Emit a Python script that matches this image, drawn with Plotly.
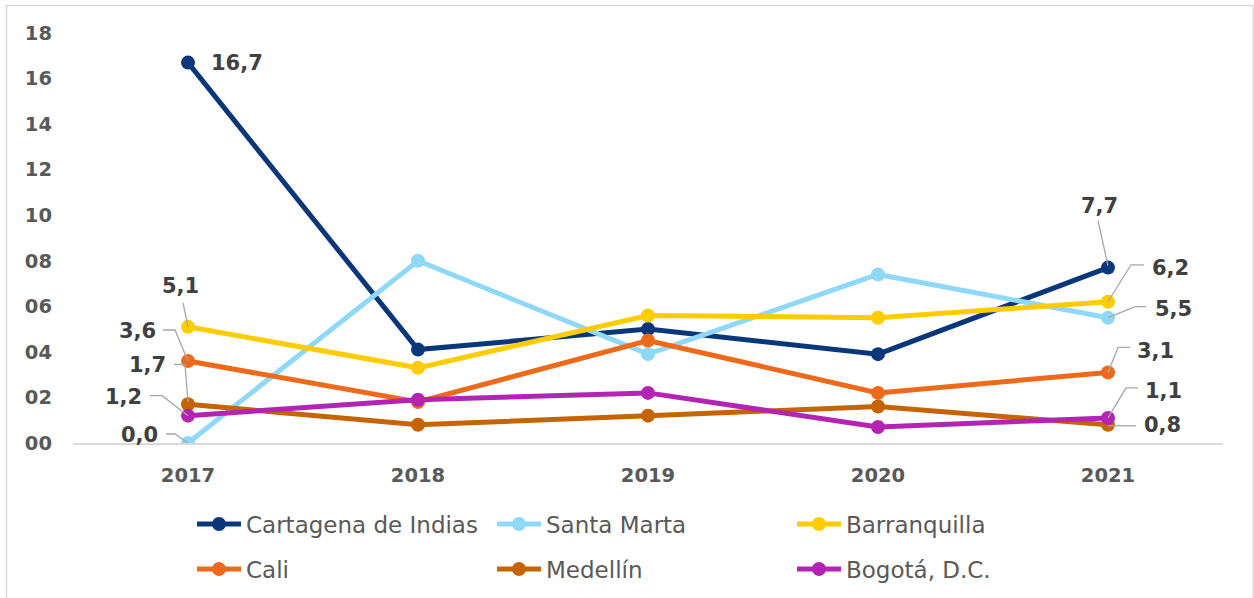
import plotly.graph_objects as go

# Source values per city, 2017-2021
years = ["2017", "2018", "2019", "2020", "2021"]
cartagena = [16.7, 4.1, 5.0, 3.9, 7.7]
santa_marta = [0.0, 8.0, 3.9, 7.4, 5.5]
barranquilla = [5.1, 3.3, 5.6, 5.5, 6.2]
cali = [3.6, 1.8, 4.5, 2.2, 3.1]
medellin = [1.7, 0.8, 1.2, 1.6, 0.8]
bogota = [1.2, 1.9, 2.2, 0.7, 1.1]

names = ["Cartagena de Indias", "Santa Marta", "Barranquilla", "Cali", "Medellín", "Bogotá, D.C."]
series = [cartagena, santa_marta, barranquilla, cali, medellin, bogota]
colors = ["#0A377A", "#8FD9F8", "#FFCC00", "#EE6A1A", "#C56400", "#B424B4"]

# Label placement (same order as series) for the first and last year:
# text offset in px and leader path in px relative to the point
first_labels = [
    ((49, 0), None),
    ((-49, 8), "M -22,9 L -13,9 L 0,0"),
    ((-8, 41), "M -5,24 L 0,0"),
    ((-51, 30), "M -25,31 L -13,31 L 0,0"),
    ((-41, 39), "M -14,40 L -3,40 L 0,2"),
    ((-65, 19), "M -38,20 L -26,20 L 0,0"),
]
last_labels = [
    ((-9, 62), "M -10,47 L 0,2"),
    ((65, 9), "M 38,11 L 27,11 L 0,0"),
    ((62, 34), "M 36,37 L 23,37 L 0,0"),
    ((47, 21), "M 22,25 L 10,25 L 0,0"),
    ((54, 0), "M 28,-1 L 0,-1"),
    ((55, 27), "M 30,30 L 18,30 L 0,0"),
]

fig = go.Figure()
for i, (name, vals, col) in enumerate(zip(names, series, colors)):
    fig.add_trace(go.Scatter(
        x=years, y=vals, name=name, mode="lines+markers",
        line=dict(color=col, width=5),
        marker=dict(color=col, size=14),
        legend="legend" if i < 3 else "legend2",
    ))

label_font = dict(family="DejaVu Sans, sans-serif", size=21, color="#404040", weight="bold")
annotations = []
shapes = []
for year_idx, placements in [(0, first_labels), (len(years) - 1, last_labels)]:
    for s, ((dx, dy), path) in zip(series, placements):
        v = s[year_idx]
        txt = f"{v:.1f}".replace(".", ",")
        annotations.append(dict(
            x=year_idx, y=v, xref="x", yref="y", text=txt,
            showarrow=False, xshift=dx, yshift=dy, font=label_font,
        ))
        if path:
            shapes.append(dict(
                type="path", xref="x", yref="y",
                xsizemode="pixel", ysizemode="pixel",
                xanchor=year_idx, yanchor=v, path=path,
                line=dict(color="#A6A6A6", width=1.3),
            ))

# Outer chart frame
shapes.append(dict(
    type="rect", xref="paper", yref="paper",
    x0=(6.5 - 73) / 1150, x1=(1253 - 73) / 1150,
    y0=(443 - 610) / 410, y1=(443 - 5.5) / 410,
    line=dict(color="#D9D9D9", width=1.5), fillcolor="rgba(0,0,0,0)", layer="below",
))

legend_common = dict(
    orientation="h", xanchor="left", yanchor="middle",
    entrywidth=241, entrywidthmode="pixels",
    font=dict(family="DejaVu Sans, sans-serif", size=23, color="#595959"),
    itemwidth=44, traceorder="normal", bgcolor="rgba(0,0,0,0)",
)

fig.update_layout(
    width=1254, height=598,
    margin=dict(l=73, r=31, t=33, b=155, autoexpand=False),
    paper_bgcolor="white", plot_bgcolor="white",
    showlegend=True,
    legend=dict(legend_common, x=(192 - 73) / 1150, y=(443 - 524) / 410),
    legend2=dict(legend_common, x=(192 - 73) / 1150, y=(443 - 569) / 410),
    xaxis=dict(
        type="category", range=[-0.5, 4.5], showgrid=False, zeroline=False,
        showline=True, linecolor="#D9D9D9", linewidth=2,
        ticks="", tickfont=dict(family="DejaVu Sans, sans-serif", size=19.5, color="#595959", weight="bold"),
        ticklabelstandoff=14,
    ),
    yaxis=dict(
        range=[0, 18], tickvals=list(range(0, 19, 2)), tickformat="02d",
        showgrid=False, zeroline=False, showline=False, ticks="",
        tickfont=dict(family="DejaVu Sans, sans-serif", size=19.5, color="#595959", weight="bold"),
        ticklabelstandoff=20,
    ),
    annotations=annotations, shapes=shapes,
)

fig.write_html("out.html")
